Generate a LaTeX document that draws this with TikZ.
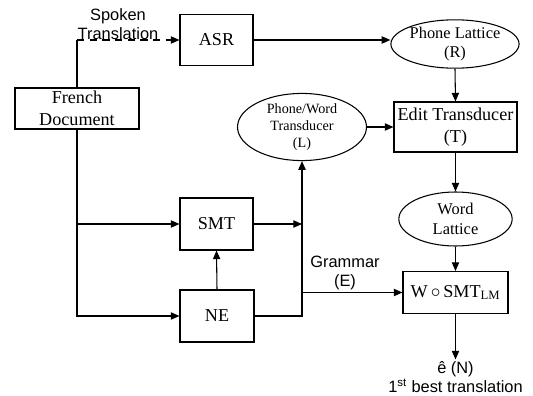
\documentclass[tikz,border=0pt]{standalone}
\usepackage{fontspec}
\setmainfont{Liberation Serif}
\setsansfont{Liberation Sans}
\usetikzlibrary{arrows.meta,shapes.geometric}
\tikzset{
  every path/.style={line width=0.8pt},
  arr/.style={-{Triangle[length=6.5pt,width=5.5pt]}},
  box/.style={draw,rectangle,inner sep=0pt,align=center},
  ell/.style={draw,ellipse,inner sep=0pt,align=center},
  big/.style={font={\fontsize{13.6}{16.5}\selectfont}},
  mid/.style={font={\fontsize{12.3}{14.5}\selectfont}},
  small/.style={font={\fontsize{10.6}{13}\selectfont}},
  lab/.style={align=center,inner sep=1pt,font={\sffamily\fontsize{12.3}{14.5}\selectfont}},
}
\begin{document}
\begin{tikzpicture}[x=0.75pt,y=-0.75pt]
\useasboundingbox (0,0) rectangle (533,396);
% nodes
\node[box,big,minimum width=93pt,minimum height=30.75pt] (doc) at (77,108.5) {French\\Document};
\node[box,big,minimum width=54.75pt,minimum height=38.25pt] (asr) at (216.5,40) {ASR};
\node[ell,mid,minimum width=87pt,minimum height=34pt] (pl) at (455,44) {Phone Lattice\\(R)};
\node[box,big,minimum width=92.25pt,minimum height=37.5pt] (edit) at (455.5,127) {Edit Transducer\\(T)};
\node[ell,small,minimum width=96.75pt,minimum height=45pt] (pw) at (302,127) {Phone/Word\\Transducer\\(L)};
\node[box,big,minimum width=54.75pt,minimum height=39pt] (smt) at (216.5,224) {SMT};
\node[box,big,minimum width=55.5pt,minimum height=39pt] (ne) at (217,316) {NE};
\node[ell,mid,minimum width=85pt,minimum height=40.5pt] (wl) at (455.5,219) {Word\\Lattice};
\node[box,big,minimum width=78.75pt,minimum height=31.5pt] (w) at (455.5,292.5) {W\,$\circ$\,SMT\textsubscript{LM}};
\node[lab] (out) at (455.5,377) {ê (N)\\1\textsuperscript{st} best translation};
\node[lab] (spk) at (118,24) {Spoken\\Translation};
\node[lab] (gram) at (345,273) {Grammar\\(E)};
% connectors
\coordinate (dc) at (doc.north |- asr.west);
\draw (doc.north) -- (dc);
\draw[arr,dash pattern=on 5.5pt off 4pt] (dc) -- (asr.west);
\draw[arr] (asr.east) -- (pl.west |- asr.east);
\draw[arr] (pl.south) -- (edit.north);
\draw[arr] (pw.east) -- (edit.west);
\draw[arr] (edit.south) -- (wl.north);
\draw[arr] (wl.south) -- (w.north);
\draw[arr] (w.south) -- (out.north);
\draw[arr] (doc.south) -- (doc.south |- ne.west) -- (ne.west);
\draw[arr] (doc.south |- smt.west) -- (smt.west);
\draw[arr] (ne.north) -- (smt.south);
\draw[arr] (ne.east) -- (ne.east -| pw.south) -- (pw.south);
\draw[arr] (smt.east) -- (smt.east -| pw.south);
\draw[arr] (pw.south |- w.west) -- (w.west);
\end{tikzpicture}
\end{document}
